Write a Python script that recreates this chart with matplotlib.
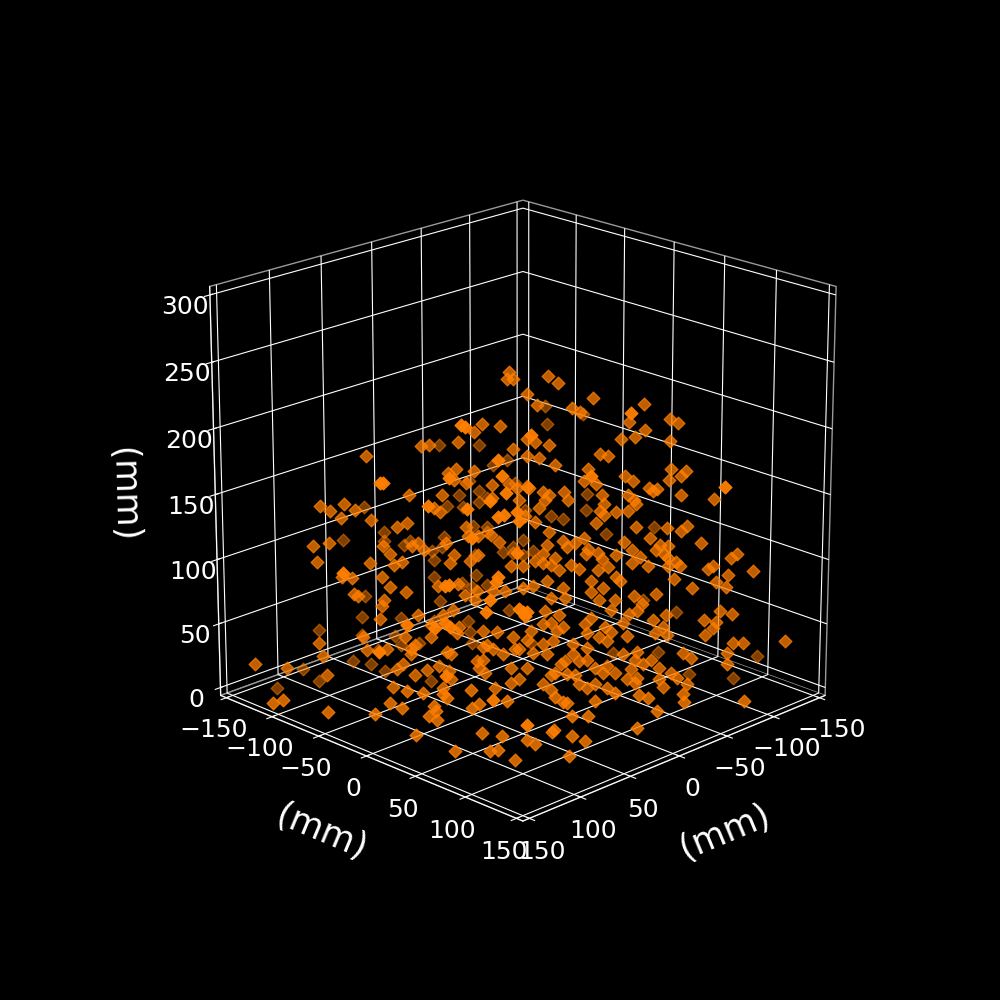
import numpy as np
import matplotlib
matplotlib.use("Agg")
import matplotlib.pyplot as plt

# bright points, closest to the viewer
x_near = [60,58,42,66,40,98,99,46,38,76,57,42,39,33,32,55,33,118,68,66,46,42,43,48,32,29,87,73,68,66,101,68,45,48,26,-22,-3,28,30,-68]
y_near = [0,2,18,-6,20,-38,-39,14,22,-16,3,18,21,27,28,5,27,-58,-8,-6,14,18,17,12,28,31,-27,-13,-8,-6,-41,-8,15,52,34,82,63,32,30,128]
z_near = [215,214,190,177,178,173,173,160,166,156,154,148,150,152,145,133,122,107,97,98,87,104,100,78,80,75,68,66,70,67,48,30,12,5,208,224,178,78,78,170]

# dark points, further back
x_far = [-18,2,-25,-32,-13,-18,-8,-36,-42,-2,-10,-18,-22,-41,40,-15,-22,-22,30,30,51,0,-40,20,17,6,1,-30,-35,-35,5,-16,-40,5,2,-9,-16,-14,-22,-33,40,42,22,5,-12,64,25,42,-13,-14,22,13,34,-52,-70,-72,-72,-54,-60,-45,-44,-51,-82,-118,-117,-109,-101,-86,-106,85,76,69,110,102,46,123,-105,-83]
y_far = [-62,-82,-55,-48,-67,-62,-72,-44,-38,-78,-70,-62,-58,-39,-120,-65,-58,-58,-110,-110,-131,-80,-40,-100,-97,-86,-81,-50,-45,-45,-85,-64,-40,-85,-82,-71,-64,-66,-58,-47,-120,-122,-102,-85,-68,-144,-105,-122,-67,-66,-102,-93,-114,-28,-10,-8,-8,-26,-20,-35,-36,-29,2,38,117,29,21,6,26,-85,-76,-69,-110,-102,-46,-123,105,83]
z_far = [166,166,151,155,139,131,128,137,135,120,119,123,126,117,119,105,104,100,100,93,94,96,94,90,93,86,89,85,89,84,79,83,83,66,47,61,67,58,60,40,51,35,34,32,32,25,20,21,23,15,13,15,9,182,189,129,117,112,110,86,15,195,99,39,28,8,48,7,104,24,22,16,18,9,9,3,11,14]

# the main cloud
x_mid = [7,8,5,-2,20,11,24,46,50,32,77,5,-2,-2,24,33,37,34,28,15,7,3,-2,56,40,15,2,100,88,95,83,90,44,41,-1,75,62,57,28,27,104,96,55,52,38,22,16,12,69,66,49,34,22,26,102,76,64,60,36,6,0,
         90,85,70,66,58,84,82,42,32,29,23,24,15,9,0,69,70,71,52,40,35,80,46,46,32,33,20,5,13,59,54,56,102,78,68,56,38,36,18,15,20,-2,4,10,100,60,63,48,42,37,23,20,22,19,6,-2,134,118,98,54,36,2,6,65,14,40,
         -12,-17,-7,-34,-24,-28,-59,-52,-72,-76,-60,-55,-48,-72,-6,-13,-8,-16,-38,-42,-32,-73,-80,-78,-72,-50,-54,-30,-36,-3,-62,-66,-64,-94,-78,-52,-55,-56,-10,-13,-11,-20,-22,-39,-40,-38,-8,-46,-52,-40,-36,-56,-71,-81,-78,-6,-13,-30,-63,-88,-20,-22,-12,-26,-32,-31,-37,-39,-46,-50,-54,-58,-54,-68,-72,-66,-70,-72,-106,-103,-94,-92,-76,-78,-10,-16,-10,-14,-6,-24,-18,-28,-42,-37,-62,-72,-114,-102,
         -84,-96,-101,-75,-66,-55,-59,-104,-98,-90,-96,-95,-91,-131,-105,-110,-102,-102,-48,-46,-34,-40,-34,-20,-5,-12,-21,-14,-46,-38,-44,-57,-53,-65,-71,-70,-66,-72,-50,-52,-34,-31,-41,-44,-32,-38,-11,-18,-10,-14,-20,-17,-4,-10,-15,-25,-42,-32,-12,-25,-28,-50,-57,-56,-64,-60,-80,-84,-68,-74,-77,-82,-54,-57,-52,-46,-42,-40,-36,-32,-68,-70,-56,-19,-21,-16,-14,-22,-26,-28,-32,-36,-42,-10,-14,2,-5]
y_mid = [-7,-8,-5,2,-20,-11,-24,-46,-50,-32,-77,-5,2,2,-24,-33,-37,-34,-28,-15,-7,-3,2,-56,-40,-15,-2,-100,-88,-95,-83,-90,-44,-41,1,-75,-62,-57,-28,-27,-104,-96,-55,-52,-38,-22,-16,-12,-69,-66,-49,-34,-22,-26,-102,-76,-64,-60,-36,-6,0,
         -90,-85,-70,-66,-58,-84,-82,-42,-32,-29,-23,-24,-15,-9,0,-69,-70,-71,-52,-40,-35,-80,-46,-46,-32,-33,-20,-5,-13,-59,-54,-56,-102,-78,-68,-56,-38,-36,-18,-15,-20,2,-4,-10,-100,-60,-63,-48,-42,-37,-23,-20,-22,-19,-6,2,-134,-118,-98,-54,-36,-2,-6,-65,-14,-40,
         12,17,7,34,24,28,59,52,72,76,60,55,48,72,6,13,8,16,38,42,32,73,80,78,72,50,54,30,36,3,62,66,64,94,78,52,55,56,10,13,11,20,22,39,40,38,8,46,52,40,36,56,71,81,78,6,13,30,63,88,20,22,12,26,32,31,37,39,46,50,54,58,54,68,72,66,70,72,106,103,94,92,76,78,10,16,10,14,6,24,18,28,42,37,62,72,114,102,
         84,96,101,75,66,55,59,104,98,90,96,95,91,131,105,110,102,102,48,46,34,40,34,20,5,12,21,14,46,38,44,57,53,65,71,70,66,72,50,52,34,31,41,44,32,38,11,18,10,14,20,17,4,10,15,25,42,32,12,25,28,50,57,56,64,60,80,84,68,74,77,82,54,57,52,46,42,40,36,32,68,70,56,19,21,16,14,22,26,28,32,36,42,10,14,-2,5]
z_mid = [239,234,234,223,201,200,195,186,185,188,178,183,190,178,167,168,165,160,158,156,157,154,155,149,149,147,145,141,142,137,138,132,139,136,133,130,125,128,125,118,111,113,111,113,113,118,119,114,111,105,108,104,104,100,99,98,97,99,98,96,96,
         88,87,88,80,76,75,73,81,82,74,77,70,77,77,79,70,66,56,59,59,63,42,51,42,50,45,47,42,46,42,36,33,38,32,33,29,31,29,36,33,35,40,33,29,28,22,18,17,20,16,24,25,19,15,19,19,22,19,13,13,10,10,7,4,3,3,
         236,231,215,220,213,210,216,203,205,202,197,192,190,189,188,186,176,171,179,178,168,168,167,163,160,163,159,159,157,154,154,153,152,146,149,149,145,142,151,149,145,151,145,149,142,137,139,136,137,134,128,125,124,126,122,129,121,117,117,113,115,110,112,113,109,105,106,101,104,114,108,103,98,112,111,108,105,102,105,102,96,94,99,96,105,102,98,97,100,97,93,94,95,93,96,96,92,89,
         79,84,80,86,75,73,67,60,62,55,54,49,44,39,38,38,30,22,85,88,85,79,76,79,81,85,72,72,70,70,63,62,60,55,59,50,45,44,53,43,57,52,50,46,45,42,62,59,52,53,50,47,47,37,39,37,39,34,29,29,24,29,31,25,25,22,30,26,19,15,11,6,18,11,10,15,20,15,19,25,10,4,7,22,24,15,13,14,13,6,3,6,3,6,2,33,30]

# points sitting on the floor in front
x_floor = [65,59,51,32,137,146,54,27,45,53,88,88,129,109,70,75,85,85,80,73,114,66,98,93,115,97,67,-91,-59,-69,-34,-3,-46,-46,-37,-16,-2,1,0,15,6,41,45,39,40,66]
y_floor = [-51,-41,-29,-20,-101,-102,-22,11,1,3,-44,-32,-63,-37,-18,-11,-7,1,40,53,10,70,66,69,49,89,79,129,101,91,98,109,70,78,55,56,30,41,44,63,70,71,73,87,100,110]
z_floor = [5]*len(x_floor)

xy_ticks = [-150, -100, -50, 0, 50, 100, 150]
z_ticks = [0, 50, 100, 150, 200, 250, 300]
orange = "#ff7f00"

# values above were read against the outer box, this puts them on the grid lines
scale = 1.031
z_shift = -3.8

plt.style.use("dark_background")
plt.rcParams["axes3d.automargin"] = True
fig = plt.figure(figsize=(10, 10), dpi=100)
ax = fig.add_subplot(projection="3d")
ax.view_init(elev=20, azim=45)
ax.set_box_aspect((1, 1, 1), zoom=0.95)

groups = [(x_far, y_far, z_far, 0.5), (x_mid, y_mid, z_mid, 0.75),
          (x_floor, y_floor, z_floor, 0.8), (x_near, y_near, z_near, 0.95)]
for xs, ys, zs, a in groups:
    ax.scatter(np.array(xs)*scale, np.array(ys)*scale, np.array(zs)*scale + z_shift,
               marker="D", s=42, c=orange, alpha=a, depthshade=False)

ax.set_xlim(-150, 150)
ax.set_ylim(-150, 150)
ax.set_zlim(0, 300)
ax.set_xticks(xy_ticks)
ax.set_yticks(xy_ticks)
ax.set_zticks(z_ticks)
ax.tick_params(labelsize=18)
for axis in (ax.xaxis, ax.yaxis, ax.zaxis):
    axis.set_pane_color((0, 0, 0, 1))
    axis.pane.set_edgecolor("#999999")
    axis.set_rotate_label(True)
ax.set_xlabel("(mm)", fontsize=25, labelpad=20)
ax.set_ylabel("(mm)", fontsize=25, labelpad=20)
ax.set_zlabel("(mm)", fontsize=25, labelpad=22)

fig.savefig("out.png", dpi=100, facecolor="black")
